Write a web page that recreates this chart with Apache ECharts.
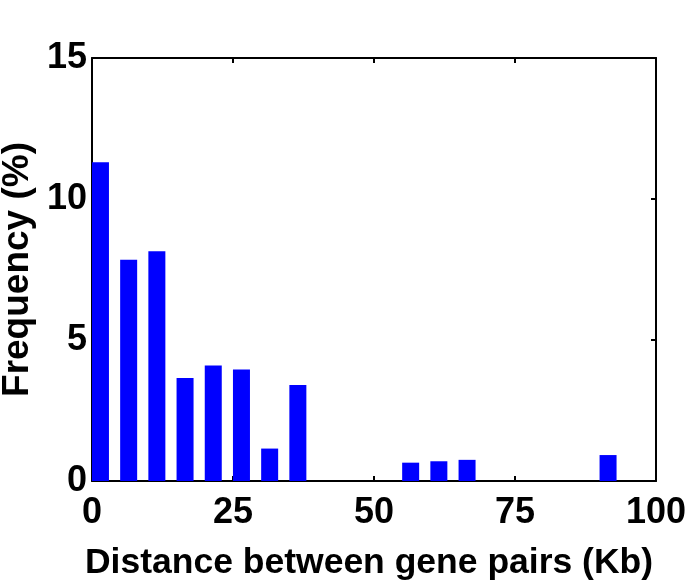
<!DOCTYPE html>
<html>
<head>
<meta charset="utf-8">
<script src="https://cdn.jsdelivr.net/npm/echarts@6/dist/echarts.min.js"></script>
<style>
  html, body { margin: 0; padding: 0; background: #fff; }
  #chart { width: 685px; height: 585px; }
</style>
</head>
<body>
<div id="chart"></div>
<script>
// bin centres (Kb) and frequency (%)
const binCenters = [1.5, 6.5, 11.5, 16.5, 21.5, 26.5, 31.5, 36.5, 56.5, 61.5, 66.5, 91.5]
const frequency = [11.3, 7.85, 8.15, 3.65, 4.1, 3.95, 1.15, 3.4, 0.65, 0.7, 0.75, 0.92]
const xTicks = [0, 25, 50, 75, 100]
const yTicks = [0, 5, 10, 15]

const font = '"Liberation Sans", Arial, sans-serif'
const chart = echarts.init(document.getElementById('chart'), null, { renderer: 'canvas' })

const axisLine = { show: true, onZero: false, lineStyle: { color: '#000', width: 2 } }
const tickIn = { show: true, inside: true, length: 5, lineStyle: { color: '#000', width: 2 } }

chart.setOption({
  animation: false,
  grid: { left: 92, right: 29, top: 58, bottom: 104, containLabel: false, outerBoundsMode: 'none' },
  xAxis: [
    {
      type: 'value',
      min: xTicks[0],
      max: xTicks[xTicks.length - 1],
      interval: 25,
      position: 'bottom',
      axisLine,
      axisTick: tickIn,
      splitLine: { show: false },
      axisLabel: {
        color: '#000', fontFamily: font, fontWeight: 'bold', fontSize: 36, margin: 14
      },
      name: 'Distance between gene pairs (Kb)',
      nameLocation: 'middle',
      nameGap: 64,
      nameTextStyle: {
        color: '#000', fontFamily: font, fontWeight: 'bold', fontSize: 35.5, padding: [0, 10, 0, 0]
      }
    },
    {
      type: 'value',
      min: 0, max: 100, interval: 25,
      position: 'top',
      axisLine,
      axisTick: tickIn,
      axisLabel: { show: false },
      splitLine: { show: false }
    }
  ],
  yAxis: [
    {
      type: 'value',
      min: yTicks[0],
      max: yTicks[yTicks.length - 1],
      interval: 5,
      position: 'left',
      axisLine,
      axisTick: tickIn,
      splitLine: { show: false },
      axisLabel: {
        color: '#000', fontFamily: font, fontWeight: 'bold', fontSize: 36, margin: 5
      },
      name: 'Frequency (%)',
      nameLocation: 'middle',
      nameGap: 52,
      nameTextStyle: { color: '#000', fontFamily: font, fontWeight: 'bold', fontSize: 37 }
    },
    {
      type: 'value',
      min: 0, max: 15, interval: 5,
      position: 'right',
      axisLine,
      axisTick: tickIn,
      axisLabel: { show: false },
      splitLine: { show: false }
    }
  ],
  series: [
    {
      type: 'bar',
      barWidth: 17,
      itemStyle: { color: '#0000ff' },
      data: binCenters.map((x, i) => [x, frequency[i]])
    }
  ]
})
</script>
</body>
</html>
